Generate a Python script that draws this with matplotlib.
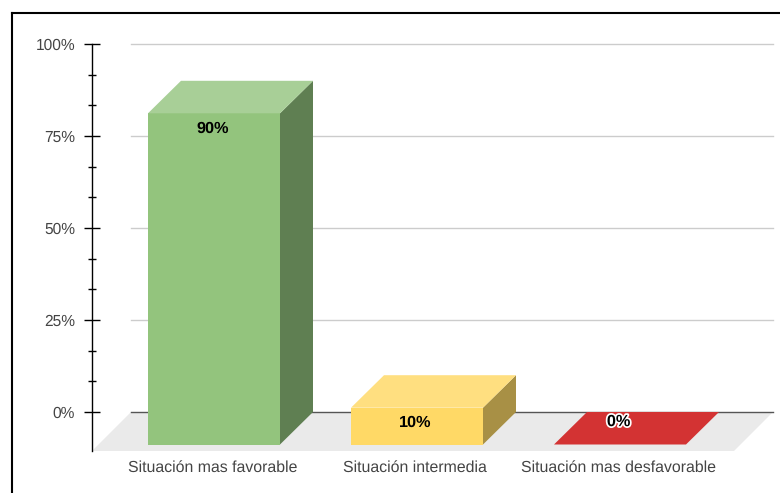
import matplotlib.pyplot as plt
from matplotlib.lines import Line2D
from matplotlib.patches import Polygon
import matplotlib.patheffects as pe
import numpy as np

plt.rcParams['font.family'] = ['Liberation Sans', 'DejaVu Sans']
plt.rcParams['text.hinting'] = 'no_hinting'

# ----- data -----
categories = ['Situación mas favorable', 'Situación intermedia', 'Situación mas desfavorable']
values = [90, 10, 0]
value_labels = ['90%', '10%', '0%']
major_ticks = [0, 25, 50, 75, 100]
major_labels = ['0%', '25%', '50%', '75%', '100%']

front_colors = ['#93c47d', '#ffd966', '#d33333']
top_colors = ['#a8cf97', '#ffdf80', '#d33333']
side_colors = ['#5f7f52', '#a89045', '#8e2222']

# ----- layout, pixels of a 780x493 picture -----
W, H = 780, 493
px_per_cat = 203.0
px_per_pct = 3.68
x0_px, y0_px = 214.0, 412.0  # first category centre, 0% line on the back wall
bar_w = 132 / px_per_cat
dx = 33 / px_per_cat   # depth of the 3d box, in data units
dy = 32.5 / px_per_pct

fig = plt.figure(figsize=(W / 100, H / 100), dpi=100)
ax = fig.add_axes([0, 0, 1, 1])
ax.set_xlim(-x0_px / px_per_cat, (W - x0_px) / px_per_cat)
ax.set_ylim(-(H - y0_px) / px_per_pct, y0_px / px_per_pct)
ax.patch.set_visible(False)

axis_x = (92 - x0_px) / px_per_cat
grid_x0 = axis_x + dx * 39 / 33
grid_x1 = (773 - x0_px) / px_per_cat
floor_y = -39 / px_per_pct

# floor
ax.add_patch(Polygon([(axis_x, floor_y), (grid_x1 - dx * 39 / 33, floor_y), (grid_x1, 0), (grid_x0, 0)],
                     closed=True, fc='#eaeaea', ec='none', zorder=1))

# gridlines
for t in major_ticks[1:]:
    ax.plot([grid_x0, grid_x1], [t, t], color='#cccccc', lw=1, zorder=1.5)
ax.plot([grid_x0, grid_x1], [0, 0], color='#555555', lw=1, zorder=1.5)

# boxes
for i, v in enumerate(values):
    l, r = i - bar_w / 2, i + bar_w / 2
    b, t = -dy, v - dy
    if v > 0:
        ax.add_patch(Polygon([(r, b), (r + dx, b + dy), (r + dx, t + dy), (r, t)],
                             fc=side_colors[i], ec='none', zorder=2))
        ax.add_patch(Polygon([(l, b), (r, b), (r, t), (l, t)],
                             fc=front_colors[i], ec='none', zorder=2))
    ax.add_patch(Polygon([(l, t), (r, t), (r + dx, t + dy), (l + dx, t + dy)],
                         fc=top_colors[i], ec='none', zorder=2))

# value labels
for i, v in enumerate(values):
    off = -15 if v > 0 else 22.5
    txt = ax.annotate(value_labels[i], (i, v - dy), xytext=(-1, off * 0.72), textcoords='offset points',
                      ha='center', va='center', fontsize=11.7, fontweight='bold', color='black', zorder=4)
    if v == 0:
        txt.set_path_effects([pe.withStroke(linewidth=2.5, foreground='white')])

# category labels
for i, c in enumerate(categories):
    ax.annotate(c, (i, floor_y), xytext=(-1.2, -17 * 0.72), textcoords='offset points',
                ha='center', va='center', fontsize=11.4, color='#444444')

# y axis
for s in ['top', 'right', 'bottom']:
    ax.spines[s].set_visible(False)
ax.spines['left'].set_position(('data', axis_x))
ax.spines['left'].set_bounds(floor_y, 100)
ax.spines['left'].set_linewidth(1)
ax.set_xticks([])
ax.set_yticks(major_ticks)
ax.set_yticklabels(major_labels)
minor = [t for t in np.arange(0, 100.1, 25 / 3) if t not in major_ticks]
ax.set_yticks(minor, minor=True)
ax.tick_params(axis='y', which='major', direction='inout', length=11.5, width=1, pad=6.5,
               labelsize=11.2, labelcolor='#444444')
ax.tick_params(axis='y', which='minor', direction='inout', length=5.8, width=1)

# outer frame of the screenshot
fig.add_artist(Line2D([11.5 / W, 11.5 / W], [0, 1 - 13 / H], color='black', lw=1.5))
fig.add_artist(Line2D([11.5 / W, 1], [1 - 13 / H, 1 - 13 / H], color='black', lw=1.5))

fig.savefig('out.png', dpi=100)
